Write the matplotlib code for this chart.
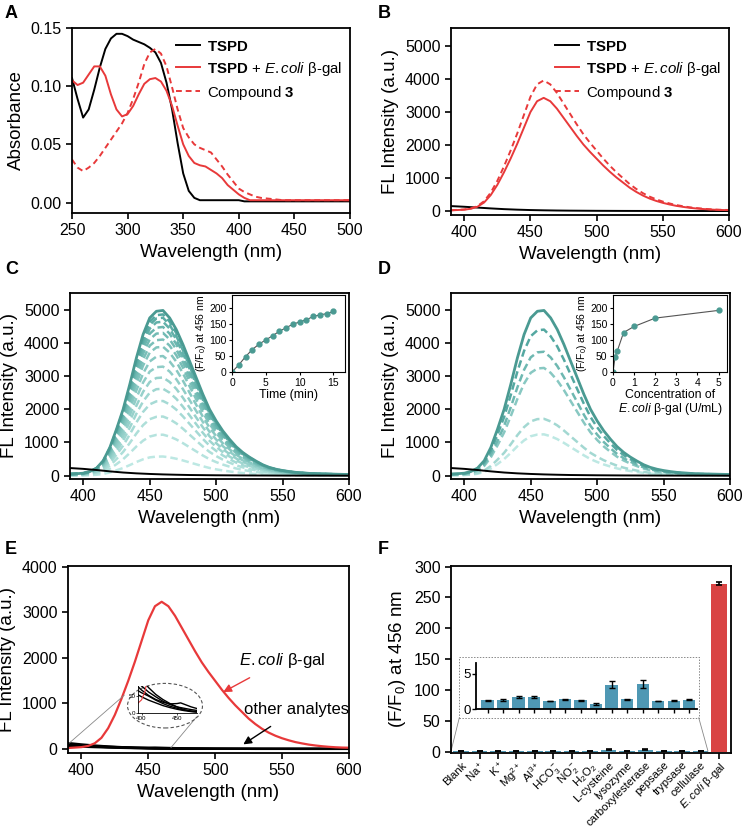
import numpy as np
import matplotlib.pyplot as plt
from matplotlib.patches import Ellipse, Rectangle

plt.rcParams['font.family'] = ['Liberation Sans', 'DejaVu Sans']
plt.rcParams['mathtext.fontset'] = 'custom'
plt.rcParams['mathtext.rm'] = 'Liberation Sans'
plt.rcParams['mathtext.it'] = 'Liberation Sans:italic'
plt.rcParams['mathtext.bf'] = 'Liberation Sans:bold'
plt.rcParams['axes.linewidth'] = 1.3

# ---------------- data ----------------
# A: absorption spectra
abs_wl = [250, 255, 260, 265, 270, 275, 280, 285, 290, 295, 300, 305, 310, 315, 320, 325, 330,
          335, 340, 345, 350, 355, 360, 365, 370, 375, 380, 385, 390, 395, 400, 405, 410, 415,
          420, 430, 440, 450, 475, 500]
abs_tspd = [0.107, 0.089, 0.073, 0.080, 0.097, 0.116, 0.132, 0.141, 0.145, 0.145, 0.143, 0.140,
            0.138, 0.136, 0.133, 0.129, 0.120, 0.103, 0.080, 0.051, 0.025, 0.010, 0.004, 0.002,
            0.002, 0.002, 0.002, 0.002, 0.002, 0.002, 0.002, 0.001, 0.001, 0.001, 0.001, 0.001,
            0.001, 0.001, 0.001, 0.001]
abs_tspd_gal = [0.105, 0.101, 0.103, 0.110, 0.117, 0.117, 0.109, 0.093, 0.080, 0.074, 0.076,
                0.083, 0.093, 0.102, 0.106, 0.107, 0.104, 0.096, 0.083, 0.066, 0.050, 0.040,
                0.034, 0.032, 0.031, 0.028, 0.025, 0.021, 0.015, 0.011, 0.007, 0.004, 0.002,
                0.002, 0.002, 0.002, 0.002, 0.002, 0.002, 0.002]
abs_cpd3 = [0.037, 0.030, 0.027, 0.030, 0.034, 0.040, 0.047, 0.054, 0.061, 0.068, 0.077, 0.089,
            0.103, 0.119, 0.129, 0.132, 0.128, 0.117, 0.099, 0.080, 0.064, 0.056, 0.050, 0.047,
            0.045, 0.043, 0.037, 0.031, 0.024, 0.018, 0.012, 0.009, 0.007, 0.005, 0.004, 0.003,
            0.002, 0.002, 0.002, 0.002]

# emission spectra (normalised profiles, 390-600 nm every 5 nm)
em_wl = np.arange(390, 601, 5)
em_shape_red = [0.006, 0.009, 0.012, 0.020, 0.038, 0.075, 0.140, 0.230, 0.340, 0.460,
                0.590, 0.730, 0.870, 0.965, 0.995, 0.965, 0.900, 0.820, 0.740, 0.660,
                0.585, 0.520, 0.460, 0.400, 0.345, 0.295, 0.250, 0.205, 0.168, 0.136,
                0.110, 0.089, 0.072, 0.058, 0.046, 0.037, 0.029, 0.023, 0.018, 0.014,
                0.011, 0.009, 0.008]
em_shape_teal = [0.010, 0.012, 0.015, 0.025, 0.046, 0.090, 0.170, 0.280, 0.400, 0.550,
                 0.710, 0.850, 0.950, 0.990, 0.995, 0.950, 0.880, 0.790, 0.690, 0.590,
                 0.490, 0.400, 0.330, 0.270, 0.220, 0.175, 0.140, 0.112, 0.088, 0.066,
                 0.050, 0.039, 0.031, 0.025, 0.020, 0.017, 0.014, 0.012, 0.011, 0.010,
                 0.009, 0.008, 0.007]

tspd_wl = [390, 400, 410, 420, 430, 440, 450, 460, 470, 480, 500, 520, 550, 600]
tspd_b = [150, 130, 105, 80, 58, 42, 30, 22, 16, 12, 7, 4, 2, 0]
tspd_cd = [230, 205, 170, 130, 95, 70, 52, 38, 28, 20, 12, 7, 3, 0]

peak_b_gal = 3450
peak_b_cpd3 = 3980

# C: time course
c_peaks = [580, 1240, 1790, 2260, 2630, 2970, 3300, 3620, 3900, 4120, 4320, 4500,
           4660, 4780, 4880]
c_final = 5000
time_min = [0, 1, 2, 3, 4, 5, 6, 7, 8, 9, 10, 11, 12, 13, 14, 15]
time_ratio = [0, 22, 48, 70, 87, 100, 113, 127, 138, 149, 156, 163, 173, 178, 182, 189]

# D: concentration
d_peaks = [1250, 1720, 3260, 3750, 4420]
d_final = 5000
conc = [0, 0.1, 0.2, 0.5, 1, 2, 5]
conc_ratio = [0, 47, 65, 123, 142, 168, 192]

# E: selectivity spectra
peak_e_gal = 3250
ana_wl = [390, 395, 400, 410, 420, 430, 440, 450, 455, 460, 470, 480, 500, 530, 560, 600]
analytes = [
    [130, 115, 100, 75, 55, 40, 28, 18, 14, 10, 5, 3, 1, 0, 0, 0],
    [110, 92, 80, 62, 48, 35, 25, 18, 16, 14, 10, 7, 3, 1, 0, 0],
    [90, 78, 68, 52, 40, 32, 27, 28, 30, 26, 18, 12, 5, 2, 0, 0],
    [75, 66, 60, 50, 38, 28, 20, 14, 11, 9, 6, 4, 2, 0, 0, 0],
    [60, 54, 48, 38, 30, 22, 16, 11, 9, 7, 4, 2, 1, 0, 0, 0],
]

# F: bar chart
f_labels = ['Blank', 'Na$^+$', 'K$^+$', 'Mg$^{2+}$', 'Al$^{3+}$', 'HCO$_3^-$', 'NO$_2^-$',
            'H$_2$O$_2$', 'L-cysteine', 'lysozyme', 'carboxylesterase', 'pepsase',
            'trypsase', 'cellulase', r'$\it{E.coli}$ β-gal']
f_values = [1.22, 1.27, 1.70, 1.67, 1.13, 1.37, 1.22, 0.73, 3.40, 1.37, 3.50, 1.13, 1.18,
            1.32, 272]
f_errors = [0.05, 0.10, 0.12, 0.15, 0.05, 0.05, 0.07, 0.15, 0.50, 0.05, 0.55, 0.05, 0.07,
            0.08, 2.5]

# ---------------- style ----------------
RED = '#e8393a'
TEAL_DARK = '#4a9a92'
BAR_BLUE = '#4f98b4'
BAR_RED = '#d94444'
LAB = 13.5
TICK = 11.5


def teal(frac):
    light = np.array([0.74, 0.91, 0.89])
    dark = np.array([0.33, 0.66, 0.63])
    return tuple(light + (dark - light) * frac)


def style(ax):
    ax.tick_params(direction='out', length=4, width=1.2, labelsize=TICK)


fig = plt.figure(figsize=(7.45, 8.33), dpi=100)
W, H = 745.0, 833.0


def add_ax(l, r, t, b):
    return fig.add_axes([l / W, 1 - b / H, (r - l) / W, (b - t) / H])


red_arr = np.array(em_shape_red)
teal_arr = np.array(em_shape_teal)

# ---- A ----
axA = add_ax(72, 350, 28, 213)
axA.plot(abs_wl, abs_tspd, color='black', lw=1.4, label=r'$\bf{TSPD}$')
axA.plot(abs_wl, abs_tspd_gal, color=RED, lw=1.4, label=r'$\bf{TSPD}$ + $\it{E.coli}$ β-gal')
axA.plot(abs_wl, abs_cpd3, color=RED, lw=1.4, ls=(0, (3, 2)), label=r'Compound $\bf{3}$')
axA.set_xlim(250, 500)
axA.set_ylim(-0.009, 0.15)
axA.set_xticks([250, 300, 350, 400, 450, 500])
axA.set_yticks([0, 0.05, 0.10, 0.15])
axA.set_xlabel('Wavelength (nm)', fontsize=LAB)
axA.set_ylabel('Absorbance', fontsize=LAB)
style(axA)
axA.legend(loc='upper right', bbox_to_anchor=(1.02, 1.01), frameon=False, fontsize=10.8,
           handlelength=1.6, handletextpad=0.45, labelspacing=0.4)

# ---- B ----
axB = add_ax(451, 729, 28, 215)
axB.plot(tspd_wl, tspd_b, color='black', lw=1.4, label=r'$\bf{TSPD}$')
axB.plot(em_wl, red_arr * peak_b_gal, color=RED, lw=1.4,
         label=r'$\bf{TSPD}$ + $\it{E.coli}$ β-gal')
axB.plot(em_wl, red_arr * peak_b_cpd3, color=RED, lw=1.4, ls=(0, (3, 2)),
         label=r'Compound $\bf{3}$')
axB.set_xlim(390, 600)
axB.set_ylim(-120, 5550)
axB.set_xticks([400, 450, 500, 550, 600])
axB.set_yticks([0, 1000, 2000, 3000, 4000, 5000])
axB.set_xlabel('Wavelength (nm)', fontsize=LAB)
axB.set_ylabel('FL Intensity (a.u.)', fontsize=LAB)
style(axB)
axB.legend(loc='upper right', bbox_to_anchor=(1.02, 1.01), frameon=False, fontsize=10.8,
           handlelength=1.6, handletextpad=0.45, labelspacing=0.4)

# ---- C ----
axC = add_ax(70, 349, 293, 479)
for i, pk in enumerate(c_peaks):
    axC.plot(em_wl, teal_arr * pk, color=teal(i / (len(c_peaks) - 1)), lw=1.8,
             ls=(0, (3, 1.6)))
axC.plot(em_wl, teal_arr * c_final, color=TEAL_DARK, lw=2.0)
axC.plot(tspd_wl, tspd_cd, color='black', lw=1.4)
axC.set_xlim(390, 600)
axC.set_ylim(-100, 5500)
axC.set_xticks([400, 450, 500, 550, 600])
axC.set_yticks([0, 1000, 2000, 3000, 4000, 5000])
axC.set_xlabel('Wavelength (nm)', fontsize=LAB)
axC.set_ylabel('FL Intensity (a.u.)', fontsize=LAB)
style(axC)

inC = add_ax(232, 345, 295, 372)
inC.plot(time_min, time_ratio, color='#555555', lw=0.8, marker='o', ms=3.5,
         mfc=TEAL_DARK, mec=TEAL_DARK)
inC.set_xlim(0, 16.7)
inC.set_ylim(0, 240)
inC.set_xticks([0, 5, 10, 15])
inC.set_yticks([0, 50, 100, 150, 200])
inC.tick_params(direction='out', length=2.5, width=0.8, labelsize=7.5, pad=1.5)
for s in inC.spines.values():
    s.set_linewidth(0.8)
inC.set_xlabel('Time (min)', fontsize=9, labelpad=1)
inC.set_ylabel('(F/F$_0$) at 456 nm', fontsize=7.5, labelpad=1)

# ---- D ----
axD = add_ax(451, 730, 293, 479)
for i, pk in enumerate(d_peaks):
    axD.plot(em_wl, teal_arr * pk, color=teal(i / (len(d_peaks) - 1)), lw=1.8,
             ls=(0, (3, 1.6)))
axD.plot(em_wl, teal_arr * d_final, color=TEAL_DARK, lw=2.0)
axD.plot(tspd_wl, tspd_cd, color='black', lw=1.4)
axD.set_xlim(390, 600)
axD.set_ylim(-100, 5500)
axD.set_xticks([400, 450, 500, 550, 600])
axD.set_yticks([0, 1000, 2000, 3000, 4000, 5000])
axD.set_xlabel('Wavelength (nm)', fontsize=LAB)
axD.set_ylabel('FL Intensity (a.u.)', fontsize=LAB)
style(axD)

inD = add_ax(613, 727, 295, 372)
inD.plot(conc, conc_ratio, color='#555555', lw=0.8, marker='o', ms=3.5,
         mfc=TEAL_DARK, mec=TEAL_DARK)
inD.set_xlim(0, 5.4)
inD.set_ylim(0, 240)
inD.set_xticks([0, 1, 2, 3, 4, 5])
inD.set_yticks([0, 50, 100, 150, 200])
inD.tick_params(direction='out', length=2.5, width=0.8, labelsize=7.5, pad=1.5)
for s in inD.spines.values():
    s.set_linewidth(0.8)
inD.set_xlabel('Concentration of\n$\\it{E.coli}$ β-gal (U/mL)', fontsize=8.8, labelpad=1,
               linespacing=1.05)
inD.set_ylabel('(F/F$_0$) at 456 nm', fontsize=7.5, labelpad=1)

# ---- E ----
axE = add_ax(68, 349, 566, 753)
for curve in analytes:
    axE.plot(ana_wl, curve, color='black', lw=1.6)
axE.plot(em_wl, red_arr * peak_e_gal, color=RED, lw=1.6)
axE.set_xlim(390, 600)
axE.set_ylim(-90, 4020)
axE.set_xticks([400, 450, 500, 550, 600])
axE.set_yticks([0, 1000, 2000, 3000, 4000])
axE.set_xlabel('Wavelength (nm)', fontsize=LAB)
axE.set_ylabel('FL Intensity (a.u.)', fontsize=LAB)
style(axE)
axE.add_patch(Ellipse((462.5, 950), 56, 980, fill=False, ls=(0, (3, 2)), lw=0.8,
                      ec='#555555', zorder=5))
axE.plot([391, 432], [130, 1180], color='#888888', lw=0.6)
axE.plot([467, 486], [30, 700], color='#888888', lw=0.6)
axE.annotate(r'$\it{E.coli}$ β-gal', xy=(506, 1250), xytext=(550, 1950), fontsize=12,
             ha='center', va='center',
             arrowprops=dict(arrowstyle='-|>', color=RED, lw=1.0, shrinkA=8, shrinkB=0))
axE.annotate('other analytes', xy=(521, 100), xytext=(561, 870), fontsize=12,
             ha='center', va='center',
             arrowprops=dict(arrowstyle='-|>', color='black', lw=1.0, shrinkA=9, shrinkB=0))

inE = add_ax(138, 197, 686, 713)
for curve in analytes:
    inE.plot(ana_wl, curve, color='black', lw=1.0)
inE.plot(em_wl, red_arr * peak_e_gal, color=RED, lw=0.8)
inE.set_xlim(395, 478)
inE.set_ylim(0, 80)
inE.set_xticks([400, 450])
inE.set_yticks([0, 50])
inE.spines['top'].set_visible(False)
inE.spines['right'].set_visible(False)
for s in inE.spines.values():
    s.set_linewidth(0.6)
inE.patch.set_alpha(0)
inE.tick_params(direction='out', length=1.5, width=0.5, labelsize=4.5, pad=0.5)

# ---- F ----
axF = add_ax(451, 731, 566, 753)
xpos = np.arange(len(f_labels))
colors = [BAR_BLUE] * (len(f_labels) - 1) + [BAR_RED]
axF.bar(xpos, f_values, width=0.85, color=colors, edgecolor='none')
axF.errorbar(xpos, f_values, yerr=f_errors, fmt='none', ecolor='black', elinewidth=1.2,
             capsize=2.5, capthick=1.2)
axF.set_xlim(-0.55, 14.65)
axF.set_ylim(-2, 301)
axF.set_yticks([0, 50, 100, 150, 200, 250, 300])
axF.set_xticks(xpos)
axF.set_xticklabels(f_labels, rotation=45, ha='right', rotation_mode='anchor')
axF.set_ylabel('(F/F$_0$) at 456 nm', fontsize=LAB)
style(axF)
axF.tick_params(axis='x', labelsize=8.2, pad=1)
axF.add_patch(Rectangle((-0.1, 55), 13.0, 98, fill=False, ls=(0, (1.5, 1.5)), lw=0.7,
                        ec='#888888'))
axF.plot([-0.1, -0.55], [55, 1], color='#888888', lw=0.6, clip_on=False)
axF.plot([12.9, 13.4], [55, 1], color='#888888', lw=0.6, clip_on=False)

inF = add_ax(476, 697, 663, 709)
xin = np.arange(len(f_labels) - 1)
inF.bar(xin, f_values[:-1], width=0.8, color=BAR_BLUE, edgecolor='none')
inF.errorbar(xin, f_values[:-1], yerr=f_errors[:-1], fmt='none', ecolor='black',
             elinewidth=1.0, capsize=2, capthick=1.0)
inF.set_xlim(-0.75, 13.5)
inF.set_ylim(0, 6.5)
inF.set_yticks([0, 5])
inF.set_xticks(xin)
inF.set_xticklabels([])
inF.spines['top'].set_visible(False)
inF.spines['right'].set_visible(False)
inF.patch.set_alpha(0)
inF.tick_params(direction='out', length=3, width=1.0, labelsize=9.5, pad=1)

# panel letters
for letter, (px, py) in zip('ABCDEF', [(5, 13), (378, 13), (5, 270), (378, 270),
                                       (5, 549), (378, 549)]):
    fig.text(px / W, 1 - py / H, letter, fontsize=13, fontweight='bold', va='center')

fig.savefig('out.png', dpi=100)
